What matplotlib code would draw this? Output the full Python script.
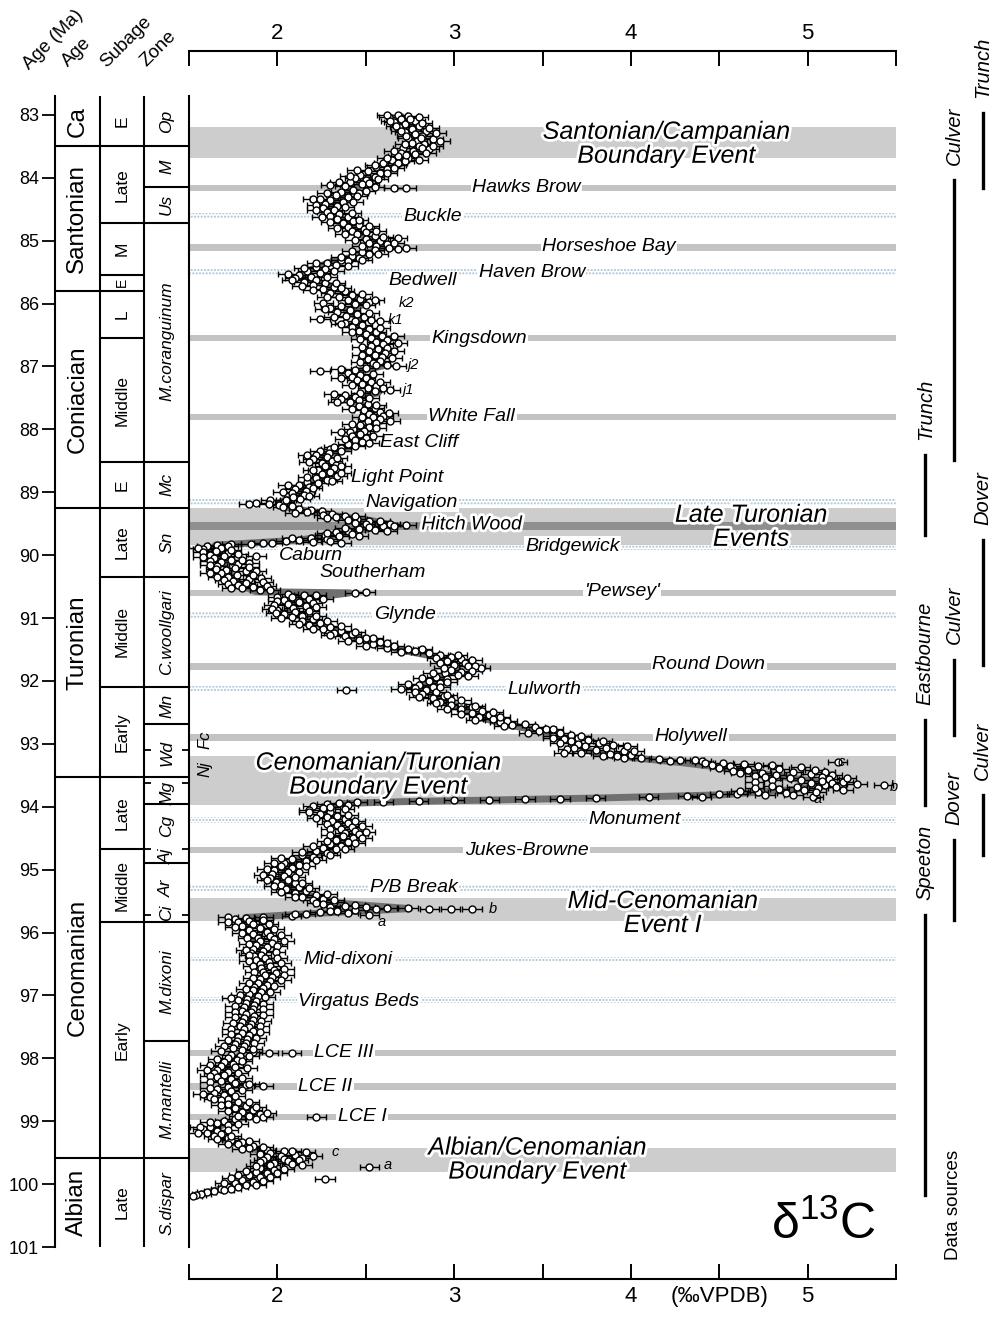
import matplotlib
matplotlib.use('Agg')
import matplotlib.pyplot as plt
import matplotlib.patheffects as pe

plt.rcParams['font.family'] = ['Liberation Sans', 'DejaVu Sans']
plt.rcParams['mathtext.fontset'] = 'custom'
plt.rcParams['mathtext.rm'] = 'Liberation Sans'
plt.rcParams['hatch.linewidth'] = 1.0

# ---------------- data ----------------
camp_sant_age = [83.00, 83.02, 83.04, 83.07, 83.09, 83.12, 83.15, 83.18, 83.20, 83.23, 83.26, 83.28, 83.31, 83.34,
                 83.36, 83.39, 83.41, 83.44, 83.47, 83.50, 83.52, 83.55, 83.57, 83.60, 83.63, 83.65, 83.68, 83.71,
                 83.74, 83.77, 83.80, 83.83, 83.86, 83.89, 83.92, 83.95, 83.98, 84.01, 84.04, 84.07, 84.10, 84.13,
                 84.15, 84.16, 84.17, 84.19, 84.22, 84.25, 84.28, 84.31, 84.34, 84.36, 84.39, 84.42, 84.45, 84.48,
                 84.51, 84.54, 84.57, 84.60, 84.63, 84.66, 84.69, 84.72, 84.75, 84.78, 84.81, 84.84, 84.87, 84.90,
                 84.93, 84.95, 84.97, 85.00, 85.03, 85.06, 85.08, 85.11, 85.12, 85.15, 85.18, 85.21, 85.24, 85.27,
                 85.30, 85.33, 85.36, 85.39, 85.42, 85.45, 85.48, 85.51, 85.54, 85.57, 85.60, 85.62, 85.65, 85.68,
                 85.71, 85.74, 85.77, 85.80]
camp_sant_d13c = [2.68, 2.74, 2.63, 2.70, 2.78, 2.66, 2.72, 2.80, 2.69, 2.76, 2.84, 2.72, 2.78, 2.82,
                  2.74, 2.88, 2.79, 2.76, 2.83, 2.80, 2.71, 2.86, 2.77, 2.70, 2.78, 2.68, 2.74, 2.65,
                  2.72, 2.60, 2.67, 2.56, 2.62, 2.51, 2.58, 2.47, 2.55, 2.44, 2.50, 2.41, 2.48, 2.38,
                  2.55, 2.66, 2.73, 2.43, 2.36, 2.46, 2.33, 2.40, 2.20, 2.30, 2.37, 2.27, 2.34, 2.26,
                  2.32, 2.28, 2.35, 2.30, 2.40, 2.34, 2.43, 2.37, 2.46, 2.40, 2.49, 2.42, 2.50, 2.45,
                  2.55, 2.68, 2.50, 2.58, 2.52, 2.62, 2.56, 2.73, 2.63, 2.55, 2.48, 2.52, 2.42, 2.46,
                  2.36, 2.40, 2.28, 2.33, 2.22, 2.27, 2.17, 2.24, 2.12, 2.19, 2.10, 2.22, 2.15, 2.27,
                  2.20, 2.32, 2.26, 2.38]
camp_sant_age_b = [83.01, 83.03, 83.06, 83.10, 83.13, 83.17, 83.21, 83.25, 83.29, 83.33, 83.37, 83.42, 83.46, 83.49,
                   83.53, 83.58, 83.61, 83.64, 83.69, 83.72, 83.76, 83.79, 83.84, 83.88, 83.93, 83.97, 84.02, 84.06,
                   84.09, 84.12, 84.21, 84.24, 84.29, 84.33, 84.38, 84.43, 84.47, 84.52, 84.56, 84.62, 84.67, 84.71,
                   84.76, 84.80, 84.85, 84.89, 84.94, 84.99, 85.04, 85.09, 85.14, 85.17, 85.22, 85.26, 85.31, 85.35,
                   85.40, 85.44, 85.49, 85.53, 85.58, 85.63, 85.67, 85.72, 85.76, 85.79]
camp_sant_d13c_b = [2.62, 2.80, 2.75, 2.64, 2.82, 2.67, 2.86, 2.70, 2.90, 2.73, 2.81, 2.92, 2.72, 2.88,
                    2.82, 2.66, 2.84, 2.73, 2.62, 2.80, 2.68, 2.55, 2.66, 2.45, 2.62, 2.41, 2.57, 2.35,
                    2.52, 2.30, 2.50, 2.28, 2.45, 2.24, 2.43, 2.22, 2.38, 2.22, 2.42, 2.25, 2.46, 2.30,
                    2.52, 2.34, 2.56, 2.38, 2.60, 2.44, 2.66, 2.48, 2.68, 2.42, 2.57, 2.36, 2.48, 2.22,
                    2.40, 2.15, 2.32, 2.06, 2.28, 2.08, 2.33, 2.14, 2.36, 2.20]

coniacian_age = [85.83, 85.86, 85.89, 85.92, 85.95, 85.98, 85.99, 86.01, 86.04, 86.07, 86.10, 86.13, 86.16, 86.19,
                 86.22, 86.24, 86.26, 86.28, 86.31, 86.34, 86.37, 86.40, 86.43, 86.46, 86.49, 86.52, 86.55, 86.58,
                 86.61, 86.64, 86.67, 86.70, 86.73, 86.76, 86.79, 86.82, 86.85, 86.88, 86.91, 86.94, 86.97, 87.00,
                 87.02, 87.05, 87.08, 87.10, 87.13, 87.16, 87.19, 87.22, 87.25, 87.28, 87.31, 87.34, 87.37, 87.39,
                 87.42, 87.45, 87.48, 87.51, 87.54, 87.57, 87.60, 87.63, 87.66, 87.69, 87.72, 87.75, 87.78, 87.81,
                 87.84, 87.87, 87.90, 87.93, 87.96, 87.99, 88.02, 88.05, 88.08, 88.11, 88.14, 88.17, 88.20, 88.23,
                 88.26, 88.29, 88.32, 88.35, 88.38, 88.41, 88.44, 88.47, 88.50, 88.53, 88.56, 88.59, 88.62, 88.65,
                 88.68, 88.71, 88.74, 88.77, 88.80, 88.83, 88.86, 88.89, 88.92, 88.95, 88.98, 89.01, 89.04, 89.07,
                 89.10, 89.13, 89.15, 89.17, 89.18, 89.20, 89.22, 89.24]
coniacian_d13c = [2.30, 2.42, 2.35, 2.47, 2.40, 2.52, 2.26, 2.44, 2.36, 2.30, 2.41, 2.34, 2.45, 2.39,
                  2.49, 2.24, 2.53, 2.44, 2.38, 2.48, 2.42, 2.52, 2.46, 2.56, 2.50, 2.59, 2.53, 2.62,
                  2.56, 2.60, 2.53, 2.62, 2.57, 2.52, 2.61, 2.55, 2.59, 2.51, 2.58, 2.54, 2.62, 2.67,
                  2.50, 2.44, 2.24, 2.40, 2.47, 2.42, 2.50, 2.45, 2.53, 2.48, 2.56, 2.51, 2.64, 2.55,
                  2.47, 2.38, 2.44, 2.36, 2.46, 2.41, 2.51, 2.46, 2.55, 2.49, 2.58, 2.52, 2.60, 2.54,
                  2.58, 2.51, 2.56, 2.47, 2.52, 2.43, 2.49, 2.41, 2.47, 2.42, 2.50, 2.44, 2.48, 2.40,
                  2.44, 2.36, 2.30, 2.24, 2.29, 2.22, 2.28, 2.20, 2.31, 2.25, 2.33, 2.27, 2.32, 2.23,
                  2.30, 2.25, 2.34, 2.22, 2.28, 2.17, 2.23, 2.12, 2.18, 2.10, 2.16, 2.08, 2.15, 2.09,
                  2.13, 1.96, 2.04, 1.88, 1.95, 2.01, 2.08, 2.03]
coniacian_age_b = [85.85, 85.90, 85.94, 86.03, 86.09, 86.15, 86.21, 86.27, 86.33, 86.39, 86.45, 86.51, 86.57, 86.63,
                   86.69, 86.75, 86.81, 86.87, 86.93, 86.98, 87.04, 87.12, 87.18, 87.24, 87.30, 87.35, 87.44, 87.50,
                   87.56, 87.62, 87.68, 87.74, 87.80, 87.86, 87.92, 87.98, 88.04, 88.10, 88.16, 88.22, 88.28, 88.34,
                   88.40, 88.46, 88.52, 88.58, 88.64, 88.70, 88.76, 88.82, 88.88, 88.94, 89.00, 89.06, 89.12, 89.19]
coniacian_d13c_b = [2.48, 2.28, 2.55, 2.50, 2.27, 2.52, 2.32, 2.58, 2.36, 2.58, 2.42, 2.66, 2.47, 2.68,
                    2.48, 2.66, 2.48, 2.65, 2.47, 2.56, 2.36, 2.54, 2.36, 2.58, 2.42, 2.60, 2.32, 2.52,
                    2.34, 2.56, 2.42, 2.63, 2.48, 2.64, 2.42, 2.56, 2.36, 2.54, 2.38, 2.52, 2.32, 2.36,
                    2.17, 2.34, 2.18, 2.36, 2.20, 2.36, 2.17, 2.31, 2.06, 2.20, 2.03, 2.18, 2.05, 1.84]

turonian_age = [89.26, 89.28, 89.30, 89.32, 89.34, 89.36, 89.38, 89.40, 89.42, 89.44, 89.46, 89.48, 89.50, 89.51,
                89.52, 89.54, 89.56, 89.58, 89.60, 89.62, 89.64, 89.66, 89.68, 89.70, 89.72, 89.74, 89.76, 89.78,
                89.80, 89.81, 89.82, 89.83, 89.84, 89.86, 89.88, 89.90, 89.93, 89.96, 89.99, 90.01, 90.02, 90.05,
                90.08, 90.11, 90.14, 90.17, 90.20, 90.23, 90.26, 90.29, 90.32, 90.35, 90.38, 90.41, 90.44, 90.47,
                90.50, 90.53, 90.56, 90.58, 90.60, 90.62, 90.64, 90.66, 90.69, 90.72, 90.75, 90.78, 90.81, 90.84,
                90.87, 90.90, 90.93, 90.96, 90.99, 91.02, 91.05, 91.08, 91.11, 91.14, 91.17, 91.20, 91.23, 91.26,
                91.29, 91.32, 91.35, 91.38, 91.41, 91.44, 91.47, 91.50, 91.53, 91.56, 91.59, 91.62, 91.65, 91.68,
                91.71, 91.74, 91.77, 91.80, 91.82, 91.85, 91.88, 91.91, 91.94, 91.97, 92.00, 92.03, 92.06, 92.09,
                92.12, 92.14, 92.15, 92.18, 92.21, 92.24, 92.27, 92.30, 92.33, 92.36, 92.39, 92.42, 92.45, 92.48,
                92.51, 92.54, 92.57, 92.60, 92.63, 92.66, 92.70, 92.74, 92.77, 92.80, 92.83, 92.86, 92.88, 92.90,
                92.92, 92.94, 92.96, 92.98, 93.00, 93.02, 93.04, 93.06, 93.08, 93.10, 93.12, 93.14, 93.16, 93.18,
                93.20, 93.22, 93.24, 93.26, 93.28, 93.29, 93.30, 93.32, 93.34, 93.36, 93.38, 93.40, 93.42, 93.44,
                93.46, 93.48, 93.50]
turonian_d13c = [2.12, 2.19, 2.25, 2.17, 2.31, 2.26, 2.38, 2.33, 2.45, 2.40, 2.52, 2.58, 2.50, 2.64,
                 2.73, 2.60, 2.52, 2.46, 2.55, 2.40, 2.33, 2.42, 2.27, 2.35, 2.19, 2.28, 2.12, 2.05,
                 2.36, 1.97, 1.85, 1.74, 1.66, 1.60, 1.68, 1.58, 1.65, 1.72, 1.62, 1.88, 1.70, 1.64,
                 1.74, 1.68, 1.78, 1.66, 1.76, 1.71, 1.82, 1.68, 1.77, 1.72, 1.84, 1.75, 1.82, 1.78,
                 1.86, 1.80, 1.90, 2.50, 2.44, 2.06, 2.15, 2.08, 2.18, 2.04, 2.12, 2.06, 2.16, 2.09,
                 2.00, 2.10, 2.04, 2.14, 2.08, 2.20, 2.14, 2.24, 2.18, 2.30, 2.26, 2.36, 2.32, 2.42,
                 2.38, 2.50, 2.46, 2.58, 2.54, 2.66, 2.62, 2.74, 2.78, 2.86, 2.92, 2.98, 3.04, 2.96,
                 3.06, 3.00, 3.08, 3.15, 2.98, 3.04, 2.95, 3.02, 2.90, 2.96, 2.86, 2.92, 2.80, 2.88,
                 2.78, 2.39, 2.84, 2.90, 2.82, 2.94, 2.88, 2.98, 2.92, 3.04, 2.98, 3.10, 3.04, 3.16,
                 3.10, 3.20, 3.14, 3.22, 3.30, 3.26, 3.33, 3.46, 3.52, 3.48, 3.60, 3.66, 3.56, 3.70,
                 3.62, 3.76, 3.66, 3.82, 3.70, 3.90, 3.74, 3.86, 3.64, 3.80, 3.96, 3.72, 3.88, 4.00,
                 3.92, 4.06, 4.16, 4.28, 4.40, 5.17, 4.52, 4.64, 4.46, 4.72, 4.58, 4.84, 4.66, 4.92,
                 4.74, 5.02, 4.82]
turonian_age_b = [89.33, 89.37, 89.41, 89.45, 89.49, 89.53, 89.57, 89.61, 89.65, 89.69, 89.73, 89.77, 89.79, 89.80,
                  89.85, 89.89, 89.92, 89.95, 89.98, 90.03, 90.07, 90.10, 90.13, 90.16, 90.19, 90.22, 90.25, 90.28,
                  90.31, 90.34, 90.37, 90.40, 90.43, 90.46, 90.49, 90.52, 90.55, 90.63, 90.67, 90.70, 90.73, 90.76,
                  90.79, 90.83, 90.86, 90.89, 90.92, 90.97, 91.00, 91.04, 91.09, 91.13, 91.18, 91.22, 91.27, 91.31,
                  91.36, 91.40, 91.45, 91.49, 91.54, 91.58, 91.63, 91.67, 91.72, 91.76, 91.79, 91.84, 91.87, 91.92,
                  91.96, 92.01, 92.05, 92.10, 92.13, 92.17, 92.22, 92.26, 92.31, 92.35, 92.40, 92.44, 92.49, 92.53,
                  92.58, 92.62, 92.68, 92.72, 92.76, 92.82, 92.87, 92.91, 92.95, 92.99, 93.03, 93.07, 93.11, 93.15,
                  93.19, 93.23, 93.25, 93.27, 93.31, 93.33, 93.35, 93.37, 93.39, 93.41, 93.43, 93.45, 93.47, 93.49,
                  93.51]
turonian_d13c_b = [2.10, 2.44, 2.28, 2.58, 2.44, 2.66, 2.38, 2.62, 2.28, 2.46, 2.08, 2.30, 2.20, 1.92,
                   1.72, 1.55, 1.74, 1.58, 1.78, 1.58, 1.80, 1.62, 1.84, 1.62, 1.84, 1.65, 1.88, 1.62,
                   1.86, 1.66, 1.91, 1.70, 1.92, 1.72, 1.94, 1.74, 1.96, 2.22, 2.00, 2.26, 2.00, 2.20,
                   1.98, 2.22, 1.97, 2.18, 1.99, 2.22, 2.02, 2.28, 2.12, 2.36, 2.20, 2.44, 2.30, 2.54,
                   2.40, 2.62, 2.50, 2.82, 2.70, 3.02, 2.90, 3.10, 2.92, 3.12, 2.94, 3.10, 2.88, 3.08,
                   2.82, 2.96, 2.74, 2.92, 2.70, 2.78, 2.96, 2.80, 3.04, 2.90, 3.12, 2.96, 3.22, 3.04,
                   3.26, 3.12, 3.40, 3.28, 3.56, 3.42, 3.72, 3.56, 3.84, 3.60, 3.98, 3.68, 4.02, 3.62,
                   3.84, 3.96, 4.36, 4.22, 4.42, 4.80, 4.56, 4.96, 4.50, 5.04, 4.58, 5.10, 4.62, 5.14,
                   4.70]

cenomanian_age = [93.52, 93.54, 93.56, 93.58, 93.60, 93.62, 93.64, 93.65, 93.66, 93.68, 93.70, 93.72, 93.74, 93.76,
                  93.78, 93.80, 93.82, 93.84, 93.84, 93.85, 93.86, 93.87, 93.88, 93.89, 93.90, 93.91, 93.92, 93.93,
                  93.94, 93.96, 93.99, 94.02, 94.05, 94.08, 94.11, 94.14, 94.17, 94.20, 94.23, 94.26, 94.29, 94.32,
                  94.35, 94.38, 94.41, 94.44, 94.47, 94.50, 94.53, 94.56, 94.59, 94.62, 94.65, 94.68, 94.71, 94.74,
                  94.77, 94.80, 94.83, 94.86, 94.89, 94.92, 94.95, 94.98, 95.01, 95.04, 95.07, 95.10, 95.13, 95.16,
                  95.19, 95.22, 95.25, 95.28, 95.31, 95.34, 95.37, 95.40, 95.43, 95.46, 95.49, 95.52, 95.55, 95.58,
                  95.60, 95.61, 95.61, 95.62, 95.62, 95.62, 95.64, 95.66, 95.68, 95.70, 95.72, 95.73, 95.75, 95.77,
                  95.79, 95.81, 95.84, 95.87, 95.90, 95.93, 95.96, 95.99, 96.02, 96.05, 96.08, 96.11, 96.14, 96.17,
                  96.20, 96.23, 96.26, 96.29, 96.32, 96.35, 96.38, 96.41, 96.44, 96.47, 96.50, 96.53, 96.56, 96.59,
                  96.62, 96.65, 96.68, 96.71, 96.74, 96.77, 96.80, 96.83, 96.86, 96.89, 96.92, 96.95, 96.98, 97.01,
                  97.04, 97.06, 97.09, 97.12, 97.15, 97.18, 97.21, 97.24, 97.27, 97.30, 97.33, 97.36, 97.39, 97.42,
                  97.45, 97.48, 97.51, 97.54, 97.57, 97.60, 97.63, 97.66, 97.69, 97.72, 97.75, 97.78, 97.81, 97.84,
                  97.87, 97.90, 97.91, 97.92, 97.94, 97.97, 98.00, 98.03, 98.06, 98.09, 98.12, 98.15, 98.18, 98.21,
                  98.24, 98.27, 98.30, 98.33, 98.36, 98.39, 98.42, 98.44, 98.46, 98.49, 98.52, 98.55, 98.58, 98.61,
                  98.64, 98.67, 98.70, 98.73, 98.76, 98.79, 98.82, 98.85, 98.88, 98.91, 98.93, 98.94, 98.97, 99.00,
                  99.03, 99.06, 99.09, 99.12, 99.15, 99.18, 99.21, 99.24, 99.27, 99.30, 99.33, 99.36, 99.39, 99.42,
                  99.45, 99.47, 99.49, 99.50, 99.53, 99.56, 99.58]
cenomanian_d13c = [5.08, 4.90, 5.12, 4.96, 5.20, 5.02, 5.28, 5.43, 5.10, 4.94, 5.06, 4.84, 4.98, 4.72,
                   4.88, 4.60, 4.76, 5.03, 4.40, 4.10, 3.80, 3.60, 3.40, 3.20, 3.00, 2.80, 2.60, 2.45,
                   2.35, 2.28, 2.20, 2.26, 2.18, 2.30, 2.24, 2.34, 2.28, 2.38, 2.31, 2.40, 2.34, 2.42,
                   2.36, 2.44, 2.38, 2.46, 2.37, 2.43, 2.33, 2.40, 2.30, 2.36, 2.26, 2.33, 2.22, 2.28,
                   2.14, 2.20, 2.08, 2.16, 2.04, 2.12, 2.02, 2.08, 1.98, 2.06, 1.97, 2.04, 1.96, 2.06,
                   1.99, 2.10, 2.02, 2.12, 2.05, 2.16, 2.10, 2.22, 2.14, 2.26, 2.20, 2.32, 2.26, 2.38,
                   2.50, 2.62, 2.74, 2.86, 2.98, 3.10, 2.44, 2.34, 2.24, 2.16, 2.52, 2.08, 1.92, 1.82,
                   1.76, 1.84, 1.78, 1.86, 1.80, 1.90, 1.84, 1.94, 1.86, 1.96, 1.89, 1.98, 1.90, 1.97,
                   1.88, 1.94, 1.86, 1.92, 1.85, 1.91, 1.87, 1.93, 1.88, 1.95, 1.90, 1.96, 1.91, 1.98,
                   1.92, 1.99, 1.93, 1.97, 1.90, 1.96, 1.89, 1.94, 1.87, 1.92, 1.86, 1.91, 1.84, 1.89,
                   1.74, 1.83, 1.88, 1.82, 1.87, 1.81, 1.86, 1.80, 1.85, 1.82, 1.87, 1.81, 1.86, 1.80,
                   1.85, 1.79, 1.84, 1.81, 1.86, 1.80, 1.84, 1.78, 1.83, 1.77, 1.82, 1.76, 1.81, 1.75,
                   1.80, 1.86, 1.95, 2.08, 1.74, 1.79, 1.72, 1.77, 1.70, 1.75, 1.68, 1.83, 1.66, 1.72,
                   1.64, 1.70, 1.66, 1.74, 1.68, 1.76, 1.82, 1.92, 1.72, 1.66, 1.74, 1.64, 1.70, 1.62,
                   1.72, 1.68, 1.78, 1.72, 1.82, 1.76, 1.86, 1.80, 1.90, 1.84, 2.22, 1.92, 1.76, 1.70,
                   1.66, 1.72, 1.62, 1.58, 1.66, 1.60, 1.68, 1.64, 1.72, 1.74, 1.80, 1.78, 1.86, 1.84,
                   1.94, 2.04, 2.16, 1.96, 2.10, 2.02, 2.14]
cenomanian_age_b = [93.53, 93.55, 93.57, 93.59, 93.61, 93.63, 93.67, 93.69, 93.71, 93.73, 93.75, 93.77, 93.79, 93.81,
                    93.83, 93.97, 94.00, 94.04, 94.09, 94.13, 94.18, 94.22, 94.27, 94.31, 94.36, 94.40, 94.45, 94.49,
                    94.54, 94.58, 94.63, 94.67, 94.72, 94.76, 94.81, 94.85, 94.90, 94.94, 94.99, 95.03, 95.08, 95.12,
                    95.17, 95.21, 95.26, 95.30, 95.35, 95.39, 95.44, 95.48, 95.53, 95.57, 95.59, 95.63, 95.65, 95.69,
                    95.71, 95.76, 95.80, 95.83, 95.86, 95.91, 95.95, 96.00, 96.04, 96.09, 96.13, 96.18, 96.22, 96.27,
                    96.31, 96.36, 96.40, 96.45, 96.49, 96.54, 96.58, 96.63, 96.67, 96.72, 96.76, 96.81, 96.85, 96.90,
                    96.94, 96.99, 97.03, 97.08, 97.13, 97.17, 97.22, 97.26, 97.31, 97.35, 97.40, 97.44, 97.49, 97.53,
                    97.58, 97.62, 97.67, 97.71, 97.76, 97.80, 97.85, 97.89, 97.96, 98.01, 98.05, 98.10, 98.14, 98.19,
                    98.23, 98.28, 98.32, 98.37, 98.41, 98.47, 98.51, 98.56, 98.60, 98.65, 98.69, 98.74, 98.78, 98.83,
                    98.87, 98.92, 98.96, 99.01, 99.05, 99.10, 99.14, 99.19, 99.23, 99.28, 99.32, 99.37, 99.41, 99.44,
                    99.48, 99.52, 99.55, 99.57]
cenomanian_d13c_b = [4.76, 5.22, 4.80, 5.08, 4.70, 5.14, 4.80, 5.16, 4.70, 5.20, 4.62, 5.05, 4.50, 4.92,
                     4.32, 2.40, 2.30, 2.38, 2.18, 2.40, 2.22, 2.44, 2.28, 2.48, 2.30, 2.50, 2.30, 2.48,
                     2.28, 2.44, 2.20, 2.38, 2.14, 2.30, 2.02, 2.22, 1.98, 2.16, 1.94, 2.12, 1.92, 2.10,
                     1.94, 2.14, 1.98, 2.18, 2.02, 2.28, 2.10, 2.32, 2.22, 2.44, 2.30, 2.56, 2.30, 2.40,
                     2.10, 1.72, 1.92, 1.72, 1.95, 1.76, 1.98, 1.80, 2.02, 1.83, 2.04, 1.84, 2.00, 1.82,
                     1.99, 1.84, 2.00, 1.84, 2.02, 1.86, 2.04, 1.87, 2.04, 1.86, 2.02, 1.84, 1.98, 1.82,
                     1.96, 1.79, 1.93, 1.78, 1.92, 1.76, 1.92, 1.76, 1.92, 1.76, 1.91, 1.75, 1.90, 1.74,
                     1.90, 1.74, 1.88, 1.72, 1.87, 1.70, 1.86, 1.68, 1.84, 1.66, 1.80, 1.62, 1.76, 1.60,
                     1.78, 1.62, 1.80, 1.62, 1.84, 1.62, 1.80, 1.58, 1.76, 1.64, 1.84, 1.68, 1.88, 1.72,
                     1.94, 1.78, 1.88, 1.62, 1.78, 1.56, 1.72, 1.55, 1.74, 1.66, 1.84, 1.72, 1.92, 1.80,
                     2.08, 1.90, 2.20, 1.94]

albian_age = [99.60, 99.62, 99.64, 99.66, 99.68, 99.70, 99.73, 99.74, 99.77, 99.80, 99.83, 99.86, 99.89, 99.92,
              99.93, 99.96, 99.99, 100.02, 100.05, 100.08, 100.11, 100.13, 100.15, 100.17, 100.19,
              99.61, 99.65, 99.69, 99.72, 99.76, 99.79, 99.82, 99.85, 99.88, 99.91, 99.95, 99.98, 100.01, 100.04,
              100.07, 100.10]
albian_d13c = [2.04, 1.92, 2.06, 1.98, 2.08, 1.96, 2.52, 1.90, 1.98, 1.88, 1.94, 1.84, 1.90, 2.27,
               1.80, 1.86, 1.76, 1.82, 1.72, 1.68, 1.64, 1.60, 1.57, 1.54, 1.52,
               2.12, 1.90, 2.14, 1.88, 2.04, 1.82, 2.00, 1.78, 1.96, 1.74, 1.92, 1.70, 1.88, 1.78,
               1.74, 1.70]

# smoothed trend (grey curve)
trend_age = [83.02, 83.24, 83.40, 83.56, 83.72, 83.87, 84.03, 84.16, 84.27, 84.40, 84.54, 84.70, 84.84, 84.99,
             85.11, 85.23, 85.34, 85.46, 85.58, 85.67, 85.78, 85.89, 86.00, 86.12, 86.23, 86.35, 86.50, 86.61,
             86.77, 86.90, 86.99, 87.09, 87.21, 87.32, 87.42, 87.52, 87.64, 87.79, 87.90, 88.04, 88.18, 88.29,
             88.42, 88.58, 88.74, 88.83, 88.96, 89.06, 89.15, 89.23, 89.31, 89.39, 89.45, 89.52, 89.60, 89.68,
             89.76, 89.84, 89.92, 90.03, 90.17, 90.33, 90.49, 90.58, 90.60, 90.71, 90.87, 91.03, 91.16, 91.28,
             91.39, 91.51, 91.60, 91.68, 91.81, 91.95, 92.08, 92.19, 92.32, 92.46, 92.59, 92.70, 92.79, 92.90,
             93.02, 93.13, 93.22, 93.30, 93.38, 93.48, 93.57, 93.65, 93.73, 93.81, 93.86, 93.89, 93.92, 93.95,
             94.07, 94.21, 94.37, 94.53, 94.69, 94.81, 94.97, 95.13, 95.29, 95.42, 95.53, 95.62, 95.70, 95.76,
             95.88, 96.04, 96.20, 96.35, 96.51, 96.67, 96.83, 96.99, 97.15, 97.31, 97.47, 97.62, 97.79, 97.94,
             98.10, 98.26, 98.42, 98.58, 98.74, 98.90, 99.06, 99.17, 99.30, 99.46, 99.62, 99.74, 99.87, 99.98,
             100.09, 100.19]
trend_d13c = [2.70, 2.76, 2.81, 2.78, 2.73, 2.64, 2.53, 2.44, 2.39, 2.31, 2.30, 2.39, 2.43, 2.53,
              2.61, 2.47, 2.30, 2.19, 2.13, 2.24, 2.36, 2.43, 2.50, 2.39, 2.47, 2.46, 2.54, 2.59,
              2.59, 2.56, 2.60, 2.43, 2.46, 2.53, 2.57, 2.41, 2.50, 2.54, 2.56, 2.44, 2.45, 2.40,
              2.26, 2.28, 2.27, 2.19, 2.13, 2.12, 2.02, 2.03, 2.20, 2.37, 2.53, 2.65, 2.48, 2.30,
              2.13, 1.65, 1.63, 1.68, 1.71, 1.74, 1.80, 1.88, 2.41, 2.10, 2.07, 2.16, 2.30, 2.41,
              2.56, 2.70, 2.87, 2.99, 3.01, 2.93, 2.81, 2.86, 2.94, 3.07, 3.16, 3.30, 3.49, 3.62,
              3.71, 3.78, 4.01, 4.29, 4.52, 4.76, 4.97, 5.15, 4.91, 4.52, 3.84, 3.27, 2.70, 2.36,
              2.26, 2.33, 2.37, 2.36, 2.30, 2.13, 2.05, 2.02, 2.07, 2.19, 2.33, 2.75, 2.19, 1.82,
              1.82, 1.85, 1.88, 1.90, 1.91, 1.93, 1.91, 1.88, 1.85, 1.85, 1.85, 1.84, 1.82, 1.79,
              1.73, 1.70, 1.76, 1.70, 1.79, 1.85, 1.69, 1.62, 1.70, 1.89, 1.99, 1.93, 1.86, 1.79,
              1.66, 1.53]
d13c_err = 0.055

# stratigraphy
stage_bounds = [82.7, 83.5, 85.8, 89.25, 93.52, 99.58, 101.0]
stage_names = ['Ca', 'Santonian', 'Coniacian', 'Turonian', 'Cenomanian', 'Albian']
subage_bounds = [82.7, 83.5, 84.72, 85.54, 85.8, 86.55, 88.52, 89.25, 90.34, 92.1, 93.52, 94.68, 95.83, 99.58, 101.0]
subage_names = ['E', 'Late', 'M', 'E', 'L', 'Middle', 'E', 'Late', 'Middle', 'Early', 'Late', 'Middle', 'Early', 'Late']
zone_bounds = [83.5, 84.15, 84.72, 88.52, 89.25, 90.34, 92.1, 92.68, 93.52, 93.95, 94.89, 95.83, 97.72, 99.58]
zone_dashes = [93.1, 93.62, 94.68, 95.72]
zone_names = ['Op', 'M', 'Us', 'M.coranguinum', 'Mc', 'Sn', 'C.woollgari', 'Mn', 'Wd', 'Mg', 'Cg', 'Aj', 'Ar',
              'Ci', 'M.dixoni', 'M.mantelli', 'S.dispar']
zone_label_age = [83.1, 83.82, 84.43, 86.6, 88.88, 89.8, 91.22, 92.4, 93.15, 93.78, 94.3, 94.78, 95.3,
                  95.68, 96.78, 98.65, 100.3]

# events
band_events = [(83.2, 83.68), (89.25, 89.84), (93.2, 93.97), (95.45, 95.81), (99.42, 99.8)]
band_labels = ['Santonian/Campanian\nBoundary Event', 'Late Turonian\nEvents', 'Cenomanian/Turonian\nBoundary Event',
               'Mid-Cenomanian\nEvent I', 'Albian/Cenomanian\nBoundary Event']
band_label_pos = [(4.20, 83.46), (4.68, 89.55), (2.57, 93.49), (4.18, 95.69), (3.47, 99.61)]
line_events = [84.16, 85.11, 86.55, 87.80, 90.60, 91.77, 92.90, 94.69, 97.92, 98.45, 98.93]
dotted_events = [84.60, 85.50, 89.16, 89.87, 90.95, 92.13, 94.21, 95.29, 96.43, 97.07]
hitch_wood = (89.47, 89.60)

event_labels = ['Hawks Brow', 'Buckle', 'Horseshoe Bay', 'Haven Brow', 'Bedwell', 'Kingsdown', 'White Fall',
                'East Cliff', 'Light Point', 'Navigation', 'Hitch Wood', 'Bridgewick', 'Caburn', 'Southerham',
                "'Pewsey'", 'Glynde', 'Round Down', 'Lulworth', 'Holywell', 'Monument', 'Jukes-Browne',
                'P/B Break', 'Mid-dixoni', 'Virgatus Beds', 'LCE III', 'LCE II', 'LCE I']
event_label_pos = [(3.41, 84.16), (2.88, 84.61), (3.875, 85.10), (3.44, 85.50), (2.82, 85.64), (3.14, 86.55),
                   (3.10, 87.80), (2.80, 88.21), (2.68, 88.76), (2.76, 89.16), (3.10, 89.52), (3.67, 89.86),
                   (2.19, 90.01), (2.54, 90.28), (3.95, 90.58), (2.72, 90.95), (4.44, 91.74), (3.51, 92.13),
                   (4.34, 92.89), (4.02, 94.21), (3.41, 94.69), (2.77, 95.29), (2.40, 96.43), (2.46, 97.09),
                   (2.375, 97.91), (2.27, 98.45), (2.48, 98.93)]
small_labels = ['k2', 'k1', 'j2', 'j1', 'c', 'b', 'a', 'b', 'a', 'c', 'a']
small_label_pos = [(2.73, 85.99), (2.67, 86.26), (2.77, 86.97), (2.74, 87.37), (5.19, 93.29), (5.49, 93.68),
                   (5.06, 93.87), (3.22, 95.62), (2.59, 95.83), (2.33, 99.49), (2.625, 99.69)]

sources = ['Trunch', 'Culver', 'Trunch', 'Dover', 'Culver', 'Eastbourne', 'Culver', 'Dover', 'Speeton']
source_col = [2, 1, 0, 2, 1, 0, 2, 1, 0]
source_top = [82.97, 84.03, 88.41, 89.76, 91.66, 92.62, 93.81, 94.53, 95.72]
source_bot = [84.16, 88.48, 89.68, 91.74, 92.86, 93.97, 94.76, 95.80, 100.17]

x_major = [2, 3, 4, 5]
x_minor = [1.5, 2.5, 3.5, 4.5, 5.5]

# ---------------- layout ----------------
W, H = 998, 1318
def fx(p):
    return p / W
def fy(p):
    return 1 - p / H

AGE_TOP, AGE_BOT = 82.7, 101.0
YT, YB = 96, 1247
XL, XR = 189, 896
fig = plt.figure(figsize=(W / 100, H / 100), dpi=100)

ax = fig.add_axes([fx(XL), fy(YB), (XR - XL) / W, (YB - YT) / H])
ax.set_xlim(1.5, 5.5)
ax.set_ylim(AGE_BOT, AGE_TOP)
for s in ['top', 'right', 'bottom']:
    ax.spines[s].set_visible(False)
ax.spines['left'].set_linewidth(1.5)
ax.set_xticks([])
ax.set_yticks([])
ax.patch.set_alpha(0)

# bands
for a0, a1 in band_events:
    ax.axhspan(a0, a1, color='#cdcdcd', lw=0, zorder=0)
ax.axhspan(hitch_wood[0], hitch_wood[1], color='#8f8f8f', lw=0, zorder=0.1)
for a in line_events:
    ax.axhspan(a - 0.05, a + 0.05, color='#c3c3c3', lw=0, zorder=0)
for a in dotted_events:
    ax.axhspan(a - 0.045, a + 0.045, facecolor='none', edgecolor='#a8c2d4', hatch='.....', lw=0, zorder=0)

stroke = [pe.withStroke(linewidth=4, foreground='white')]
for (x, y), t in zip(event_label_pos, event_labels):
    if t == 'Hitch Wood':
        ax.text(x, y, t, fontsize=14, style='italic', ha='center', va='center', zorder=5, path_effects=stroke)
    else:
        ax.text(x, y, t, fontsize=14, style='italic', ha='center', va='center', zorder=1.5,
                bbox=dict(fc='white', ec='none', pad=1.0))

# trend and data
ax.plot(trend_d13c, trend_age, color='#707070', lw=5, solid_capstyle='round', zorder=2)
for ages, vals in [(camp_sant_age, camp_sant_d13c), (camp_sant_age_b, camp_sant_d13c_b),
                   (coniacian_age, coniacian_d13c), (coniacian_age_b, coniacian_d13c_b),
                   (turonian_age, turonian_d13c), (turonian_age_b, turonian_d13c_b),
                   (cenomanian_age, cenomanian_d13c), (cenomanian_age_b, cenomanian_d13c_b),
                   (albian_age, albian_d13c)]:
    ax.errorbar(vals, ages, xerr=d13c_err, fmt='o', ms=5, mfc='white', mec='black', mew=1.0,
                ecolor='black', elinewidth=1.0, capsize=2.2, capthick=1.0, zorder=3)

for (x, y), t in zip(band_label_pos, band_labels):
    ax.text(x, y, t, fontsize=18, style='italic', ha='center', va='center', linespacing=1.0,
            path_effects=stroke, zorder=5)
for (x, y), t in zip(small_label_pos, small_labels):
    ax.text(x, y, t, fontsize=10.5, style='italic', ha='center', va='center', zorder=4)
ax.text(1.59, 92.94, 'Fc', fontsize=12, style='italic', rotation=90, ha='center', va='center')
ax.text(1.59, 93.41, 'Nj', fontsize=12, style='italic', rotation=90, ha='center', va='center')
ax.text(5.09, 100.65, 'δ$^{13}$C', fontsize=36, ha='center', va='center')

# stratigraphic columns
axs = fig.add_axes([fx(55), fy(YB), (XL - 55) / W, (YB - YT) / H])
axs.set_xlim(0, 3)
axs.set_ylim(AGE_BOT, AGE_TOP)
axs.patch.set_alpha(0)
for s in ['top', 'right', 'bottom']:
    axs.spines[s].set_visible(False)
axs.spines['left'].set_linewidth(1.5)
axs.set_xticks([])
axs.set_yticks(range(83, 102))
axs.tick_params(axis='y', length=9.5, width=1.3, labelsize=13, pad=2)
for xc in [1, 2]:
    axs.axvline(xc, color='black', lw=1.5)
axs.hlines(stage_bounds[1:-1], 0, 1, color='black', lw=1.5)
axs.hlines(subage_bounds[1:-1], 1, 2, color='black', lw=1.5)
axs.hlines(zone_bounds, 2, 3, color='black', lw=1.5)
axs.hlines(zone_dashes, 2, 2.15, color='black', lw=1.3)
axs.hlines(zone_dashes, 2.85, 3, color='black', lw=1.3)
for i, n in enumerate(stage_names):
    axs.text(0.5, (stage_bounds[i] + stage_bounds[i + 1]) / 2, n, rotation=90, ha='center', va='center',
             fontsize=17.5)
for i, n in enumerate(subage_names):
    a0, a1 = subage_bounds[i], subage_bounds[i + 1]
    axs.text(1.5, (a0 + a1) / 2, n, rotation=90, ha='center', va='center',
             fontsize=10 if (a1 - a0) < 0.4 else 12.5)
for n, a in zip(zone_names, zone_label_age):
    axs.text(2.5, a, n, rotation=90, ha='center', va='center', style='italic', fontsize=12.5)

# headers
for t, (px, py) in zip(['Age (Ma)', 'Age', 'Subage', 'Zone'], [(53, 40), (77, 52), (126, 42), (158, 49)]):
    fig.text(fx(px), fy(py), t, rotation=45, ha='center', va='center', fontsize=13.5)

# top axis
axt = fig.add_axes([fx(XL), fy(52), (XR - XL) / W, 1 / H])
axt.set_xlim(1.5, 5.5)
axt.patch.set_alpha(0)
for s in ['left', 'right', 'bottom']:
    axt.spines[s].set_visible(False)
axt.spines['top'].set_linewidth(1.5)
axt.set_yticks([])
axt.set_xticks(x_major)
axt.set_xticks(x_minor, minor=True)
axt.tick_params(axis='x', which='both', direction='in', length=11, width=1.4, top=True, bottom=False,
                labeltop=True, labelbottom=False, labelsize=16, pad=5)

# bottom axis
axb = fig.add_axes([fx(XL), fy(1279), (XR - XL) / W, 1 / H])
axb.set_xlim(1.5, 5.5)
axb.patch.set_alpha(0)
for s in ['left', 'right', 'top']:
    axb.spines[s].set_visible(False)
axb.spines['bottom'].set_linewidth(1.5)
axb.set_yticks([])
axb.set_xticks(x_major + [4.5])
axb.set_xticklabels(['2', '3', '4', '5', '(‰VPDB)'])
axb.set_xticks([1.5, 2.5, 3.5, 5.5], minor=True)
axb.tick_params(axis='x', which='both', direction='in', length=11, width=1.4, labelsize=16, pad=5)

# data sources
axr = fig.add_axes([fx(911), fy(YB), 86 / W, (YB - YT) / H])
axr.set_xlim(-0.5, 2.5)
axr.set_ylim(AGE_BOT, AGE_TOP)
axr.axis('off')
for n, c, t, b in zip(sources, source_col, source_top, source_bot):
    axr.plot([c, c], [t, b], color='black', lw=2.4, clip_on=False)
    axr.text(c, t - 0.24, n, rotation=90, ha='center', va='bottom', style='italic', fontsize=14.5,
             clip_on=False)
axr.text(1, 100.33, 'Data sources', rotation=90, ha='center', va='center', fontsize=13.5)

fig.savefig('out.png', dpi=100)
